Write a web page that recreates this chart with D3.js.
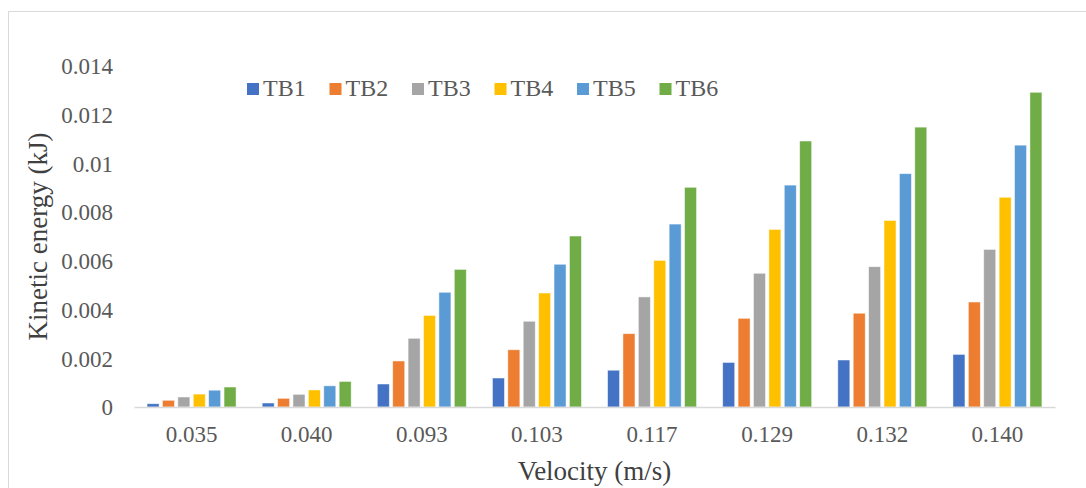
<html>

<head>
    <meta charset="utf-8">
    <title>Kinetic energy vs velocity</title>
    <style>
        body { margin: 0; background: #fff; }
        svg text { font-family: "Liberation Serif", "Times New Roman", "DejaVu Serif", serif; }
    </style>
</head>

<body>
    <script src="https://cdn.jsdelivr.net/npm/d3@7/dist/d3.min.js" charset="utf-8"></script>
    <script>
        // categories (velocity, m/s)
        var velocities = ["0.035", "0.040", "0.093", "0.103", "0.117", "0.129", "0.132", "0.140"];
        var seriesNames = ["TB1", "TB2", "TB3", "TB4", "TB5", "TB6"];
        var colors = ["#4472C4", "#ED7D31", "#A5A5A5", "#FFC000", "#5B9BD5", "#70AD47"];
        var yTicks = [0, 0.002, 0.004, 0.006, 0.008, 0.01, 0.012, 0.014];

        // kinetic energy (kJ), one array per series
        var tb1 = [0.000135, 0.000164, 0.000944, 0.00119, 0.00151, 0.00183, 0.00193, 0.00216];
        var tb2 = [0.000275, 0.000356, 0.00189, 0.00235, 0.00301, 0.00364, 0.00385, 0.00431];
        var tb3 = [0.00041, 0.00052, 0.00282, 0.00352, 0.00452, 0.00549, 0.00576, 0.00647];
        var tb4 = [0.00053, 0.0007, 0.00376, 0.00468, 0.00602, 0.00729, 0.00766, 0.00861];
        var tb5 = [0.00069, 0.00087, 0.00471, 0.00586, 0.00751, 0.00911, 0.00958, 0.01075];
        var tb6 = [0.00082, 0.00105, 0.00565, 0.00702, 0.00902, 0.01092, 0.01149, 0.01292];
        var seriesValues = [tb1, tb2, tb3, tb4, tb5, tb6];

        var width = 1086, height = 488;
        var plotLeft = 134, plotRight = 1055, plotTop = 66, plotBottom = 407;
        var serif = "Liberation Serif";

        var svg = d3.select("body")
            .append("svg")
            .attr("width", width)
            .attr("height", height);

        // chart frame
        svg.append("rect")
            .attr("x", 8.5)
            .attr("y", 11.5)
            .attr("width", 1200)
            .attr("height", 600)
            .attr("fill", "none")
            .attr("stroke", "#d9d9d9")
            .attr("stroke-width", 1);

        var x0 = d3.scaleBand()
            .domain(velocities)
            .range([plotLeft, plotRight])
            .paddingInner(0.227)
            .paddingOuter(0.1135);
        var x1 = d3.scaleBand()
            .domain(seriesNames)
            .range([0, x0.bandwidth()])
            .paddingInner(0.22);
        var y = d3.scaleLinear()
            .domain([0, 0.014])
            .range([plotBottom, plotTop]);

        // y tick labels (no gridlines)
        var yAxis = d3.axisLeft(y)
            .tickValues(yTicks)
            .tickSize(0)
            .tickPadding(0)
            .tickFormat(function (d) { return d === 0 ? "0" : String(+d.toFixed(3)); });
        var gy = svg.append("g")
            .attr("transform", "translate(" + 113 + ",0)")
            .call(yAxis);
        gy.select(".domain").remove();
        gy.attr("font-size", null).attr("font-family", serif);
        gy.selectAll("text")
            .attr("font-family", serif)
            .attr("fill", "#595959")
            .attr("font-size", 23)
            .attr("dy", "0.34em");

        // bars
        var groups = svg.selectAll("g.cat")
            .data(velocities)
            .enter()
            .append("g")
            .attr("class", "cat")
            .attr("transform", function (d) { return "translate(" + x0(d) + ",0)"; });
        groups.selectAll("rect")
            .data(function (d, i) {
                return seriesNames.map(function (s, j) {
                    return { name: s, value: seriesValues[j][i], color: colors[j] };
                });
            })
            .enter()
            .append("rect")
            .attr("x", function (d) { return x1(d.name); })
            .attr("y", function (d) { return y(d.value); })
            .attr("width", x1.bandwidth())
            .attr("height", function (d) { return plotBottom - y(d.value); })
            .attr("fill", function (d) { return d.color; })
            .attr("stroke", "#ffffff")
            .attr("stroke-opacity", 0.6)
            .attr("stroke-width", 0.8);

        // x axis
        var xAxis = d3.axisBottom(x0).tickSize(0).tickPadding(19);
        var gx = svg.append("g")
            .attr("transform", "translate(0," + plotBottom + ")")
            .call(xAxis);
        gx.attr("font-size", null).attr("font-family", serif);
        gx.select(".domain")
            .attr("stroke", "#d9d9d9")
            .attr("stroke-width", 1.5);
        gx.selectAll("text")
            .attr("font-family", serif)
            .attr("fill", "#595959")
            .attr("font-size", 23);

        // axis titles
        svg.append("text")
            .attr("x", (plotLeft + plotRight) / 2)
            .attr("y", 480)
            .attr("text-anchor", "middle")
            .attr("font-family", serif)
            .attr("font-size", 27)
            .attr("fill", "#404040")
            .text("Velocity (m/s)");
        svg.append("text")
            .attr("transform", "translate(47," + ((plotTop + plotBottom) / 2) + ") rotate(-90)")
            .attr("text-anchor", "middle")
            .attr("font-family", serif)
            .attr("font-size", 27)
            .attr("fill", "#404040")
            .text("Kinetic energy (kJ)");

        // legend
        var legend = svg.selectAll("g.legend")
            .data(seriesNames)
            .enter()
            .append("g")
            .attr("class", "legend")
            .attr("transform", function (d, i) { return "translate(" + (247 + i * 82.5) + ",83)"; });
        legend.append("rect")
            .attr("width", 12)
            .attr("height", 12)
            .attr("fill", function (d, i) { return colors[i]; });
        legend.append("text")
            .attr("x", 16)
            .attr("y", 13)
            .attr("font-family", serif)
            .attr("font-size", 24)
            .attr("fill", "#595959")
            .text(function (d) { return d; });
    </script>
</body>

</html>
